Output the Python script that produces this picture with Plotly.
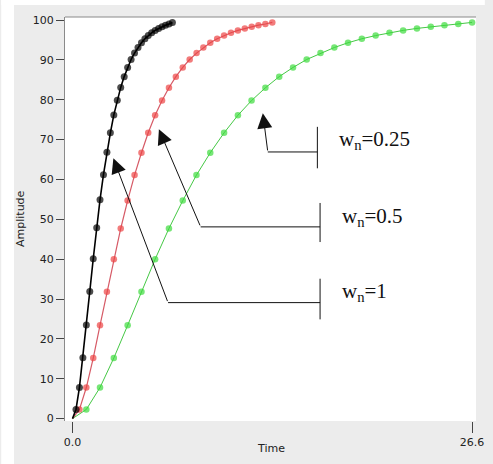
import plotly.graph_objects as go

# ---- data ----
t_w1 = [0, 0.23, 0.46, 0.69, 0.92, 1.15, 1.38, 1.61, 1.83, 2.06, 2.29, 2.52, 2.75, 2.98, 3.21,
        3.44, 3.67, 3.90, 4.13, 4.36, 4.59, 4.82, 5.04, 5.27, 5.50, 5.73, 5.96, 6.19, 6.42, 6.65]
amp_w1 = [0, 2.3, 7.8, 15.3, 23.5, 31.9, 40.1, 47.9, 54.9, 61.2, 66.8, 71.7, 76.2, 79.9, 83.1,
          85.8, 88.1, 90.1, 91.7, 93.1, 94.3, 95.3, 96.1, 96.8, 97.4, 97.9, 98.3, 98.7, 99.0, 99.4]

t_w05 = [0, 0.46, 0.92, 1.38, 1.83, 2.29, 2.75, 3.21, 3.67, 4.13, 4.59, 5.04, 5.50, 5.96, 6.42,
         6.88, 7.34, 7.80, 8.26, 8.71, 9.17, 9.63, 10.09, 10.55, 11.01, 11.47, 11.93, 12.38, 12.84, 13.30]
amp_w05 = [0, 2.3, 7.8, 15.2, 23.4, 31.8, 40.0, 47.7, 54.7, 61.1, 66.7, 71.7, 76.1, 79.8, 83.0,
           85.8, 88.1, 90.1, 91.7, 93.1, 94.3, 95.3, 96.1, 96.8, 97.4, 97.9, 98.3, 98.7, 99.0, 99.4]

t_w025 = [0, 0.92, 1.83, 2.75, 3.67, 4.59, 5.50, 6.42, 7.34, 8.25, 9.17, 10.09, 11.01, 11.92, 12.84,
          13.76, 14.68, 15.59, 16.51, 17.43, 18.34, 19.26, 20.18, 21.10, 22.01, 22.93, 23.85, 24.76, 25.68, 26.60]
amp_w025 = [0, 2.3, 7.8, 15.2, 23.4, 31.8, 40.0, 47.7, 54.7, 61.1, 66.7, 71.7, 76.1, 79.8, 83.0,
            85.8, 88.1, 90.1, 91.7, 93.1, 94.3, 95.3, 96.1, 96.8, 97.4, 97.9, 98.3, 98.7, 99.0, 99.4]

y_ticks = [0, 10, 20, 30, 40, 50, 60, 70, 80, 90, 100]
x_ticks = [0.0, 26.6]
x_tick_labels = ["0.0", "26.6"]

labels = ["w<sub>n</sub>=0.25", "w<sub>n</sub>=0.5", "w<sub>n</sub>=1"]

W, H = 493, 464
ML, MR, MT, MB = 65, 9, 17, 43
PW, PH = W - ML - MR, H - MT - MB

fig = go.Figure()

series = [
    (t_w025, amp_w025, "#3ddc3d", "#45c845", 1.0, 6.5),
    (t_w05, amp_w05, "#ec4545", "#d65a66", 1.2, 6.5),
    (t_w1, amp_w1, "#000000", "#000000", 1.6, 7),
]
for t, a, mc, lc, lw, ms in series:
    sizes = [0] + [ms] * (len(t) - 1)
    fig.add_trace(go.Scatter(
        x=t, y=a, mode="lines+markers",
        line=dict(color=lc, width=lw),
        marker=dict(color=mc, size=sizes, line=dict(width=0)),
        showlegend=False, hoverinfo="skip"))

# callout geometry (tip, corner, bar x, bar y-range, text pos)
callouts = [
    dict(tip=(12.67, 76.6), corner=(13.0, 66.9), barx=16.30, bar=(62.8, 73.2), txt=(17.6, 69.9)),
    dict(tip=(5.75, 72.6), corner=(8.53, 48.1), barx=16.48, bar=(44.3, 54.1), txt=(17.8, 50.7)),
    dict(tip=(2.72, 65.3), corner=(6.36, 29.1), barx=16.48, bar=(24.9, 35.1), txt=(17.8, 31.8)),
]
shapes = []
annotations = []

# white margins at the far left and top of the picture
shapes.append(dict(type="rect", xref="paper", yref="paper", layer="below",
                   x0=-ML / PW, x1=(13 - ML) / PW, y0=-MB / PH, y1=(PH + MT) / PH,
                   fillcolor="#ffffff", line=dict(width=0)))
shapes.append(dict(type="rect", xref="paper", yref="paper", layer="below",
                   x0=-ML / PW, x1=1 + MR / PW, y0=(PH + MT - 5) / PH, y1=(PH + MT) / PH,
                   fillcolor="#ffffff", line=dict(width=0)))

for c, lab in zip(callouts, labels):
    shapes.append(dict(type="line", xref="x", yref="y", x0=c["corner"][0], y0=c["corner"][1],
                       x1=c["barx"], y1=c["corner"][1], line=dict(color="#111111", width=1)))
    shapes.append(dict(type="line", xref="x", yref="y", x0=c["barx"], y0=c["bar"][0],
                       x1=c["barx"], y1=c["bar"][1], line=dict(color="#111111", width=1)))
    annotations.append(dict(x=c["tip"][0], y=c["tip"][1], ax=c["corner"][0], ay=c["corner"][1],
                            xref="x", yref="y", axref="x", ayref="y", text="", showarrow=True,
                            arrowhead=2, arrowsize=3, arrowwidth=1, arrowcolor="#111111"))
    annotations.append(dict(x=c["txt"][0], y=c["txt"][1], xref="x", yref="y", text=lab,
                            showarrow=False, xanchor="left", yanchor="middle",
                            font=dict(family="Liberation Serif", size=21, color="#111111")))

# top border
shapes.append(dict(type="line", xref="paper", yref="paper", x0=0, x1=1, y0=1, y1=1,
                   line=dict(color="#8a8a8a", width=1)))

annotations.append(dict(x=0.5, y=0, xref="paper", yref="paper", text="Time", showarrow=False,
                        xanchor="center", yanchor="middle", yshift=-27,
                        font=dict(family="DejaVu Sans", size=11, color="#222222")))
annotations.append(dict(x=0, y=0.5, xref="paper", yref="paper", text="Amplitude", showarrow=False,
                        xanchor="center", yanchor="middle", xshift=-45, textangle=-90,
                        font=dict(family="DejaVu Sans", size=11, color="#222222")))

fig.update_layout(
    width=W, height=H,
    margin=dict(l=ML, r=MR, t=MT, b=MB),
    paper_bgcolor="#ececec", plot_bgcolor="#ffffff",
    shapes=shapes, annotations=annotations,
    font=dict(family="DejaVu Sans", size=11, color="#222222"),
)
fig.update_xaxes(range=[-0.5, 26.86], tickvals=x_ticks, ticktext=x_tick_labels,
                 ticks="outside", ticklen=11, tickcolor="#444444", showgrid=False,
                 zeroline=False, showline=False, fixedrange=True)
fig.update_yaxes(range=[-0.6, 100.76], tickvals=y_ticks, ticks="outside", ticklen=8,
                 tickcolor="#444444", showgrid=False, zeroline=False, showline=True,
                 linecolor="#8a8a8a", linewidth=1, fixedrange=True)

fig.write_html("out.html", config={"displayModeBar": False},
               post_script="document.body.style.margin='0';document.body.style.overflow='hidden';")
